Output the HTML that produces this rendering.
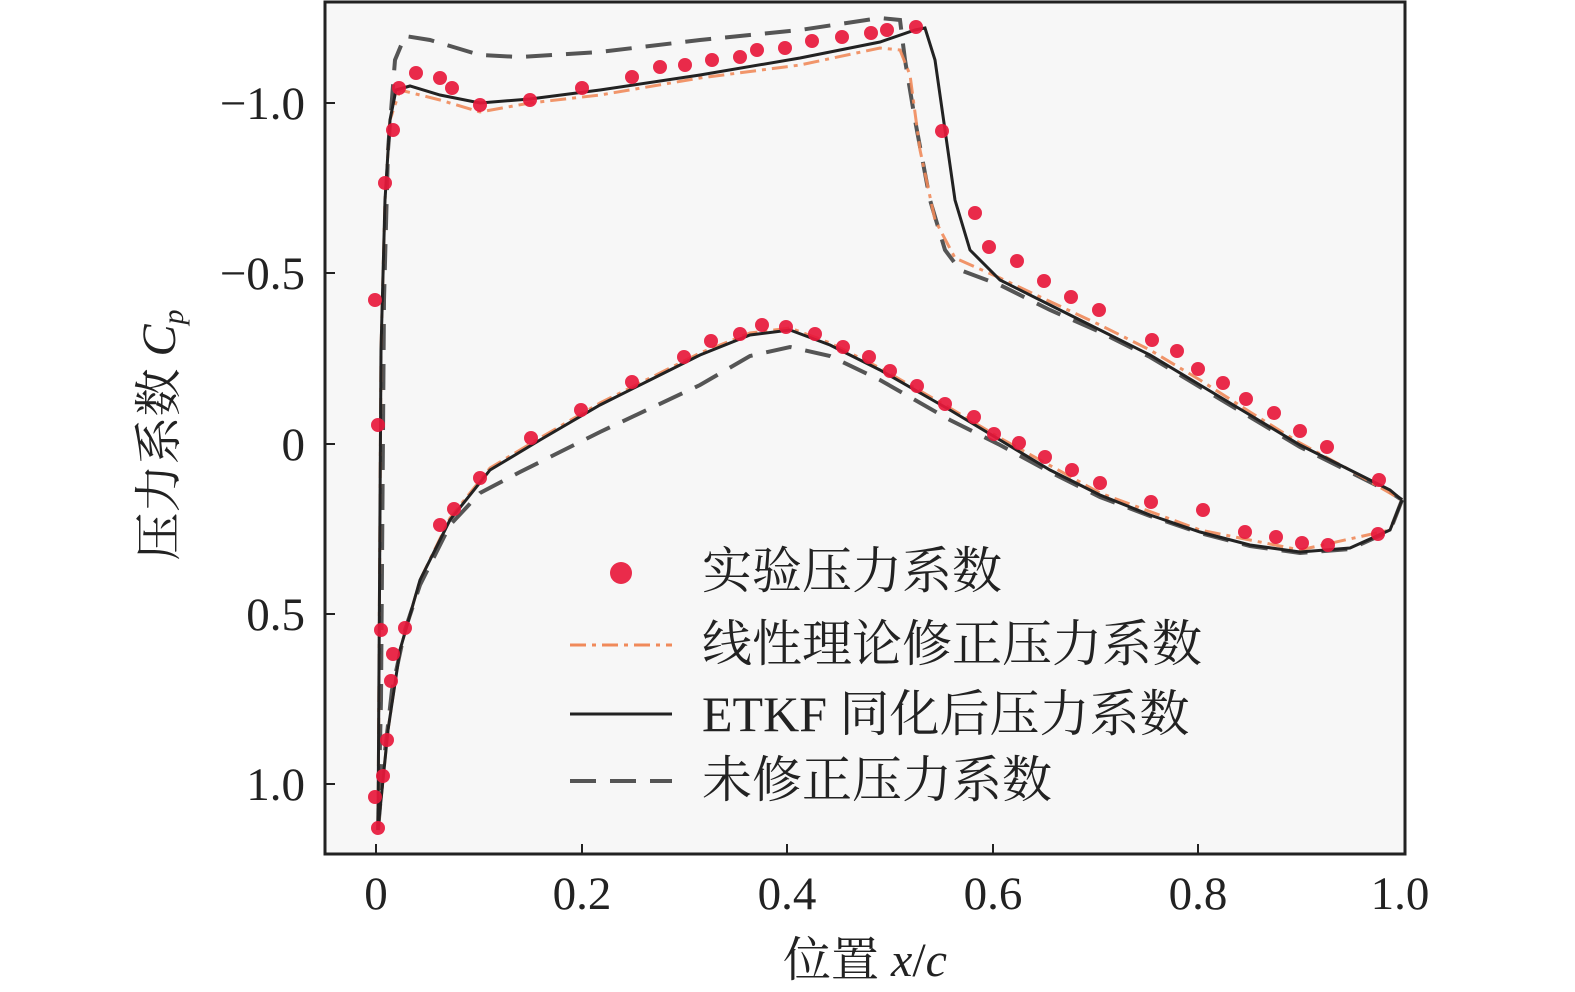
<!DOCTYPE html>
<html><head><meta charset="utf-8"><style>
body{margin:0;background:#fff;}
svg{display:block}
text{font-family:"Liberation Serif","Noto Serif CJK SC",serif;fill:#222}
</style></head><body>
<svg width="1575" height="992" viewBox="0 0 1575 992" xmlns="http://www.w3.org/2000/svg">
<rect x="325" y="2" width="1080" height="852" fill="#f7f7f7"/>
<g fill="none" stroke="#555" stroke-width="4" stroke-dasharray="26,14">
<path d="M378,830 L381,700 L384,300 L388,150 L395,60 L405,36 L430,40 L480,55 L520,57 L600,52 L700,40 L800,30 L880,18 L900,20 L905,60 L915,120 L930,200 L945,250 L960,270 L1000,285 L1050,310 L1100,332 L1150,357 L1200,387 L1250,417 L1300,447 L1350,472 L1390,492 L1402,500"/>
<path d="M378,830 L384,760 L392,690 L405,630 L420,585 L450,525 L480,493 L520,472 L600,432 L700,385 L750,356 L790,347 L830,356 L880,380 L950,420 L1000,445 L1050,472 L1100,497 L1150,516 L1200,533 L1250,546 L1300,553 L1350,549 L1390,531 L1402,500"/>
</g>
<g fill="none" stroke="#f08a5a" stroke-width="3" stroke-dasharray="16,6,4,6" opacity="0.9">
<path d="M378,830 L381,350 L385,200 L390,120 L400,90 L440,100 L480,112 L530,103 L600,95 L700,78 L800,65 L880,48 L900,50 L910,75 L920,150 L935,220 L955,258 L1000,278 L1100,325 L1150,350 L1200,380 L1250,412 L1300,443 L1350,470 L1402,500"/>
<path d="M378,830 L388,730 L400,650 L420,580 L450,518 L490,468 L540,438 L600,403 L700,353 L750,333 L790,328 L830,343 L880,368 L950,408 L1000,438 L1100,493 L1200,530 L1300,550 L1390,530 L1402,500"/>
</g>
<g fill="none" stroke="#222" stroke-width="3">
<path d="M378,830 L381,350 L385,200 L390,120 L396,90 L410,86 L440,95 L480,103 L530,99 L600,90 L700,75 L800,58 L880,42 L915,30 L925,28 L935,60 L945,130 L955,200 L970,250 L1000,280 L1050,305 L1100,330 L1150,355 L1200,385 L1250,415 L1300,445 L1350,470 L1390,490 L1402,500"/>
<path d="M378,830 L382,790 L388,730 L400,650 L420,580 L450,520 L490,470 L540,440 L600,405 L650,380 L700,355 L750,335 L790,330 L830,345 L880,370 L950,410 L1000,440 L1050,470 L1100,495 L1150,515 L1200,532 L1250,545 L1300,552 L1350,548 L1390,530 L1402,500"/>
</g>
<g fill="#e8193c" opacity="0.92">
<circle cx="375" cy="300" r="7"/><circle cx="378" cy="425" r="7"/><circle cx="381" cy="630" r="7"/><circle cx="385" cy="183" r="7"/><circle cx="393" cy="130" r="7"/><circle cx="399" cy="88" r="7"/><circle cx="416" cy="73" r="7"/><circle cx="440" cy="78" r="7"/><circle cx="452" cy="88" r="7"/><circle cx="480" cy="105" r="7"/><circle cx="530" cy="100" r="7"/><circle cx="582" cy="88" r="7"/><circle cx="632" cy="77" r="7"/><circle cx="660" cy="67" r="7"/><circle cx="685" cy="65" r="7"/><circle cx="712" cy="60" r="7"/><circle cx="740" cy="57" r="7"/><circle cx="757" cy="50" r="7"/><circle cx="785" cy="48" r="7"/><circle cx="812" cy="41" r="7"/><circle cx="842" cy="37" r="7"/><circle cx="871" cy="33" r="7"/><circle cx="887" cy="30" r="7"/><circle cx="916" cy="27" r="7"/><circle cx="942" cy="131" r="7"/><circle cx="975" cy="213" r="7"/><circle cx="989" cy="247" r="7"/><circle cx="1017" cy="261" r="7"/><circle cx="1044" cy="281" r="7"/><circle cx="1071" cy="297" r="7"/><circle cx="1099" cy="310" r="7"/><circle cx="1152" cy="340" r="7"/><circle cx="1177" cy="351" r="7"/><circle cx="1198" cy="369" r="7"/><circle cx="1223" cy="383" r="7"/><circle cx="1246" cy="399" r="7"/><circle cx="1274" cy="413" r="7"/><circle cx="1300" cy="431" r="7"/><circle cx="1327" cy="447" r="7"/><circle cx="1379" cy="480" r="7"/>
<circle cx="1378" cy="534" r="7"/><circle cx="1328" cy="545" r="7"/><circle cx="1302" cy="543" r="7"/><circle cx="1276" cy="537" r="7"/><circle cx="1245" cy="532" r="7"/><circle cx="1203" cy="510" r="7"/><circle cx="1151" cy="502" r="7"/><circle cx="1100" cy="483" r="7"/><circle cx="1072" cy="470" r="7"/><circle cx="1045" cy="457" r="7"/><circle cx="1019" cy="443" r="7"/><circle cx="994" cy="434" r="7"/><circle cx="974" cy="417" r="7"/><circle cx="945" cy="404" r="7"/><circle cx="917" cy="386" r="7"/><circle cx="890" cy="371" r="7"/><circle cx="869" cy="357" r="7"/><circle cx="843" cy="347" r="7"/><circle cx="815" cy="334" r="7"/><circle cx="786" cy="327" r="7"/><circle cx="762" cy="325" r="7"/><circle cx="740" cy="334" r="7"/><circle cx="711" cy="341" r="7"/><circle cx="684" cy="357" r="7"/><circle cx="632" cy="382" r="7"/><circle cx="581" cy="410" r="7"/><circle cx="531" cy="438" r="7"/><circle cx="480" cy="478" r="7"/><circle cx="454" cy="509" r="7"/><circle cx="440" cy="525" r="7"/><circle cx="405" cy="628" r="7"/><circle cx="393" cy="654" r="7"/><circle cx="391" cy="681" r="7"/><circle cx="387" cy="740" r="7"/><circle cx="383" cy="776" r="7"/><circle cx="375" cy="797" r="7"/><circle cx="378" cy="828" r="7"/>
<circle cx="621" cy="573" r="11"/>
</g>
<line x1="570" y1="645" x2="672" y2="645" stroke="#f08a5a" stroke-width="3" stroke-dasharray="16,6,4,6"/>
<line x1="570" y1="714" x2="672" y2="714" stroke="#222" stroke-width="3"/>
<line x1="570" y1="781" x2="672" y2="781" stroke="#555" stroke-width="4" stroke-dasharray="26,14"/>
<g font-size="50" style="font-family:'Noto Serif CJK SC','Liberation Serif',serif">
<text x="702" y="588">实验压力系数</text>
<text x="702" y="661">线性理论修正压力系数</text>
<text x="702" y="731"><tspan style="font-family:'Liberation Serif',serif">ETKF</tspan> 同化后压力系数</text>
<text x="702" y="797">未修正压力系数</text>
</g>
<rect x="325" y="2" width="1080" height="852" fill="none" stroke="#222" stroke-width="3"/>
<g stroke="#222" stroke-width="2">
<line x1="325" y1="103" x2="335" y2="103"/><line x1="325" y1="273" x2="335" y2="273"/><line x1="325" y1="444" x2="335" y2="444"/><line x1="325" y1="614" x2="335" y2="614"/><line x1="325" y1="784" x2="335" y2="784"/>
<line x1="376" y1="854" x2="376" y2="844"/><line x1="582" y1="854" x2="582" y2="844"/><line x1="787" y1="854" x2="787" y2="844"/><line x1="993" y1="854" x2="993" y2="844"/><line x1="1198" y1="854" x2="1198" y2="844"/>
</g>
<g font-size="47" text-anchor="end">
<text x="305" y="119">−1.0</text><text x="305" y="289">−0.5</text><text x="305" y="460">0</text><text x="305" y="630">0.5</text><text x="305" y="800">1.0</text>
</g>
<g font-size="47" text-anchor="middle">
<text x="376" y="909">0</text><text x="582" y="909">0.2</text><text x="787" y="909">0.4</text><text x="993" y="909">0.6</text><text x="1198" y="909">0.8</text><text x="1400" y="909">1.0</text>
</g>
<text x="865" y="976" font-size="48" text-anchor="middle"><tspan style="font-family:'Noto Serif CJK SC',serif">位置</tspan> <tspan font-style="italic">x</tspan>/<tspan font-style="italic">c</tspan></text>
<text transform="translate(175,435) rotate(-90)" font-size="48" text-anchor="middle"><tspan style="font-family:'Noto Serif CJK SC',serif">压力系数</tspan> <tspan font-style="italic">C</tspan><tspan font-style="italic" font-size="30" dy="8">p</tspan></text>
</svg>
</body></html>
